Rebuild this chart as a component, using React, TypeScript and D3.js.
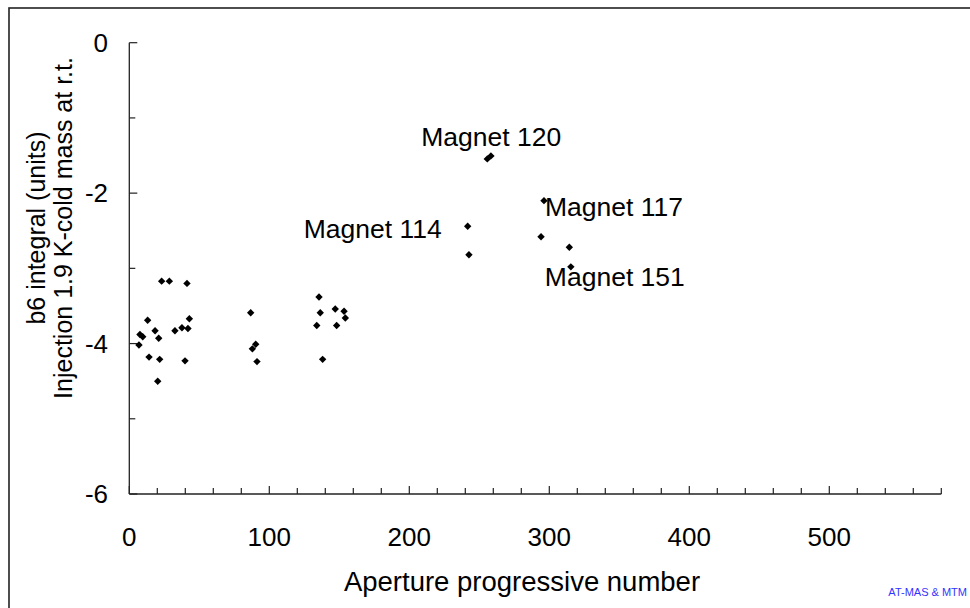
import React from "react";
import * as d3 from "d3";

// Aperture progressive number of each measured aperture
const apertureNo = [
  23.1, 28.6, 41.2, 13.1, 42.9, 7.6, 9.6, 18.4, 21.0, 32.6, 37.6, 41.9, 6.9, 14.1, 21.7, 39.8, 20.3,
  86.7, 87.9, 90.3, 91.2,
  135.5, 136.4, 133.9, 147.1, 153.4, 154.3, 148.1, 138.1,
  255.7, 258.3, 296.2, 241.7, 242.6, 294.1, 314.3, 315.4,
];

// b6 integral (units), injection, 1.9 K cold mass at room temperature
const b6Values = [
  -3.17, -3.17, -3.2, -3.69, -3.67, -3.88, -3.91, -3.83, -3.93, -3.83, -3.79, -3.8, -4.02, -4.18, -4.21, -4.23, -4.5,
  -3.59, -4.07, -4.01, -4.24,
  -3.38, -3.59, -3.76, -3.54, -3.57, -3.66, -3.76, -4.21,
  -1.545, -1.505, -2.1, -2.44, -2.82, -2.58, -2.72, -2.98,
];

const xTicks = [0, 100, 200, 300, 400, 500];
const yTicks = [0, -2, -4, -6];

// Annotated magnets: label text and the measurement it refers to
const magnetLabels = ["Magnet 120", "Magnet 117", "Magnet 114", "Magnet 151"];
const magnetPointIndex = [29, 31, 32, 36];

const FONT = "'Liberation Sans', Arial, sans-serif";

export default function App() {
  const x = d3.scaleLinear().domain([0, 580]).range([129.3, 941.3]);
  const y = d3.scaleLinear().domain([-6, 0]).range([494, 42.7]);

  const xMinor = d3.range(0, 581, 20);
  const yMinor = d3.range(-6, 0.01, 1);

  const diamond = (cx: number, cy: number, r: number) =>
    `M${cx},${cy - r}L${cx + r},${cy}L${cx},${cy + r}L${cx - r},${cy}Z`;

  // label placement relative to the labelled point
  const labelOffsets: { dx: number; dy: number; anchor: "start" | "end" }[] = [
    { dx: -66, dy: -13, anchor: "start" },
    { dx: 1, dy: 15, anchor: "start" },
    { dx: -26, dy: 12, anchor: "end" },
    { dx: -26, dy: 19, anchor: "start" },
  ];

  const x0 = x(0);
  const yBase = y(-6);

  return (
    <svg
      width={970}
      height={608}
      style={{ position: "absolute", left: 0, top: 0, background: "#fff" }}
      fontFamily={FONT}
    >
      <rect x={0} y={0} width={970} height={608} fill="#fff" />
      {/* chart frame */}
      <rect x={9} y={8} width={1000} height={640} fill="none" stroke="#222" strokeWidth={1.6} />

      {/* y axis */}
      <line x1={x0} x2={x0} y1={y(0)} y2={yBase} stroke="#222" strokeWidth={1.3} />
      {yMinor.map((v) => {
        const major = Math.round(v) % 2 === 0;
        return (
          <line
            key={`ym${v}`}
            x1={x0}
            x2={x0 + (major ? 8 : 6)}
            y1={y(v)}
            y2={y(v)}
            stroke="#222"
            strokeWidth={1.2}
          />
        );
      })}
      {yTicks.map((v) => (
        <text
          key={`yt${v}`}
          x={108}
          y={y(v)}
          dy="0.35em"
          textAnchor="end"
          fontSize={26}
          fill="#000"
        >
          {v}
        </text>
      ))}

      {/* x axis */}
      <line x1={x0} x2={x(580)} y1={yBase} y2={yBase} stroke="#222" strokeWidth={1.3} />
      {xMinor.map((v) => {
        const major = v % 100 === 0;
        return (
          <line
            key={`xm${v}`}
            x1={x(v)}
            x2={x(v)}
            y1={yBase}
            y2={yBase - (major ? 8 : 6)}
            stroke="#222"
            strokeWidth={1.2}
          />
        );
      })}
      {xTicks.map((v) => (
        <text key={`xt${v}`} x={x(v)} y={546} textAnchor="middle" fontSize={26} fill="#000">
          {v}
        </text>
      ))}

      {/* axis titles */}
      <text x={522} y={591} textAnchor="middle" fontSize={27.5} fill="#000">
        Aperture progressive number
      </text>
      <g transform="translate(45,228) rotate(-90)">
        <text x={0} y={0} textAnchor="middle" fontSize={25} fill="#000">
          b6 integral (units)
        </text>
        <text x={0} y={27} textAnchor="middle" fontSize={25} fill="#000">
          Injection 1.9 K-cold mass at r.t.
        </text>
      </g>

      {/* measurements */}
      {apertureNo.map((a, i) => (
        <path key={`p${i}`} d={diamond(x(a), y(b6Values[i]), 3.7)} fill="#000" />
      ))}

      {/* magnet annotations */}
      {magnetLabels.map((t, i) => {
        const k = magnetPointIndex[i];
        const o = labelOffsets[i];
        return (
          <text
            key={t}
            x={x(apertureNo[k]) + o.dx}
            y={y(b6Values[k]) + o.dy}
            textAnchor={o.anchor}
            fontSize={26.5}
            fill="#000"
          >
            {t}
          </text>
        );
      })}

      <text x={967} y={596} textAnchor="end" fontSize={11} fill="#3333ff">
        AT-MAS &amp; MTM
      </text>
    </svg>
  );
}
